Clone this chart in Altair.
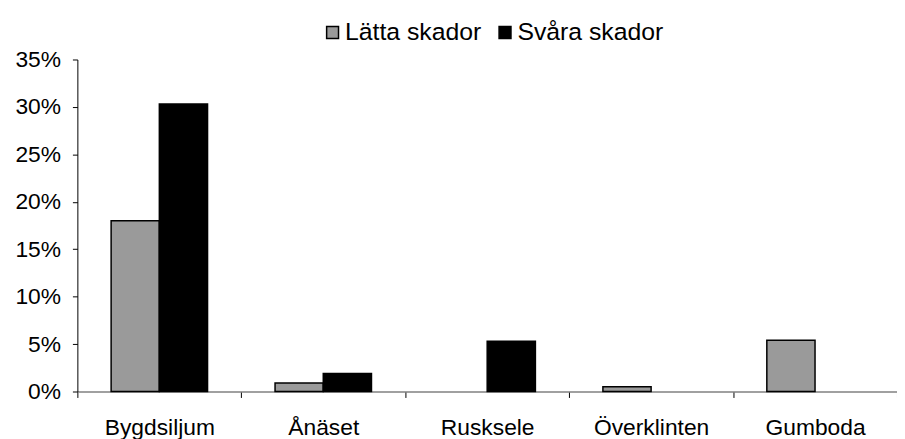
import altair as alt
import pandas as pd

categories = ["Bygdsiljum", "Ånäset", "Rusksele", "Överklinten", "Gumboda"]
series = ["Lätta skador", "Svåra skador"]
latta = [0.180, 0.009, 0.0, 0.005, 0.054]
svara = [0.303, 0.019, 0.053, 0.0, 0.0]

rows = []
for i, c in enumerate(categories):
    rows.append({"plats": c, "typ": series[0], "andel": latta[i]})
    rows.append({"plats": c, "typ": series[1], "andel": svara[i]})
df = pd.DataFrame(rows)

FONT = "Liberation Sans"

chart = alt.Chart(df).mark_bar(stroke="black", strokeWidth=1.5).encode(
    x=alt.X("plats:N", sort=categories, title=None,
            scale=alt.Scale(domain=categories, paddingInner=0, paddingOuter=0),
            axis=alt.Axis(labelAngle=0, tickBand="extent", tickSize=6,
                          tickColor="black", domainColor="#808080", domainWidth=1.5,
                          labelFont=FONT, labelFontSize=23, labelColor="black",
                          labelPadding=19, grid=False)),
    xOffset=alt.XOffset("typ:N", sort=series,
                        scale=alt.Scale(domain=series, paddingInner=0, paddingOuter=0.7)),
    y=alt.Y("andel:Q", title=None,
            scale=alt.Scale(domain=[0, 0.35], nice=False),
            axis=alt.Axis(format=".0%", values=[0, 0.05, 0.1, 0.15, 0.2, 0.25, 0.3, 0.35],
                          tickSize=5, tickColor="black", domainColor="black",
                          labelFont=FONT, labelFontSize=23, labelColor="black",
                          labelPadding=12, grid=False)),
    color=alt.Color("typ:N", sort=series,
                    scale=alt.Scale(domain=series, range=["#9a9a9a", "black"]),
                    legend=alt.Legend(title=None, orient="none", direction="horizontal",
                                      legendX=245, legendY=-40,
                                      symbolType="square", symbolSize=144,
                                      symbolStrokeColor="black", symbolStrokeWidth=1.5,
                                      labelFont=FONT, labelFontSize=25, labelColor="black",
                                      labelOffset=0, columnPadding=11, padding=0)),
).transform_filter(
    alt.datum.andel > 0
).properties(
    width=827, height=335,
    autosize=alt.AutoSizeParams(type="none"),
    padding={"left": 70, "top": 50, "right": 0, "bottom": 50},
).configure_view(stroke=None)

chart.save("out.html", embed_options={"renderer": "svg", "actions": False})
